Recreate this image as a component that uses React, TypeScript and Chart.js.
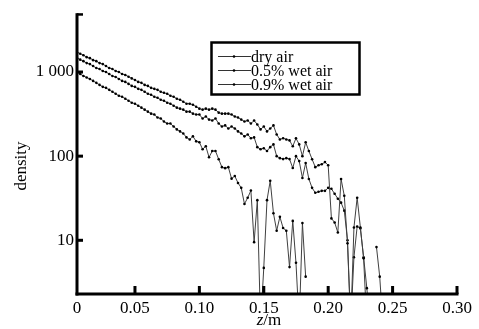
import React, { useEffect, useRef } from "react";
import { Chart, registerables } from "chart.js";

Chart.register(...registerables);

// z grid (m): first sample at the left end of the axis, regular step
const Z_START = 0.005;
const Z_STEP = 0.0025;

const SERIES_NAMES = ["dry air", "0.5% wet air", "0.9% wet air"];

const DRY_AIR: (number | null)[] = [
  1719, 1651, 1585, 1502, 1461, 1384, 1347, 1276, 1242, 1177,
  1115, 1085, 1027, 1000, 947, 922, 880, 840, 805, 763,
  743, 703, 684, 648, 631, 614, 582, 566, 551, 522,
  508, 481, 468, 444, 420, 420, 409, 387, 367, 357,
  367, 357, 367, 357, 329, 320, 320, 320, 312, 296,
  288, 272, 258, 265, 244, 265, 238, 208, 225, 197,
  213, 232, 181, 158, 163, 158, 154, 131, 163, 138,
  100, 146, 115, 92, 74, 78, 80, 85, 78, 18.2,
  16.3, 12.4, 53.6, 33.8, 9.2, 1, 14.2, 32.1, 14.2, 6.1,
  1, null, null, 8.3, 3.7, 1,
];

const WET_05: (number | null)[] = [
  1461, 1403, 1347, 1276, 1242, 1177, 1115, 1085, 1027, 1000,
  947, 897, 873, 827, 784, 763, 722, 684, 666, 631,
  614, 582, 551, 536, 508, 494, 468, 456, 432, 420,
  398, 377, 367, 357, 338, 338, 320, 312, 312, 280,
  296, 272, 265, 280, 244, 225, 232, 213, 225, 213,
  197, 186, 172, 181, 163, 167, 128, 121, 124, 115,
  128, 138, 100, 94.7, 92.2, 94.7, 92.2, 72.3, 100, 87.3,
  55.1, 82.7, 53.6, 42, 36.7, 37.7, 38.7, 38.7, 42, 40.9,
  35.7, 31.2, 28, 22.5, 10, 1, 6.3, 14.6, 13.8, 6.3,
  2.7, 1,
];

const WET_09: (number | null)[] = [
  1000, 947, 897, 861, 827, 784, 743, 703, 666, 648,
  614, 582, 551, 522, 508, 481, 456, 432, 420, 398,
  377, 357, 338, 320, 312, 288, 280, 258, 244, 244,
  225, 208, 197, 186, 167, 158, 172, 150, 146, 121,
  131, 97, 115, 115, 92, 74, 72, 74, 54, 58,
  48, 42, 27, 32, 39, 9.5, 30, 1, 4.7, 30,
  51, 21, 13, 19, 14, 13, 4.8, 17, 5.4, 1,
  16, 3.7,
];

const X_TICKS = [0.005, 0.05, 0.1, 0.15, 0.2, 0.25, 0.3];
const X_TICK_LABELS = ["0", "0.05", "0.10", "0.15", "0.20", "0.25", "0.30"];
const Y_TICKS = [10, 100, 1000];
const Y_TICK_LABELS = ["10", "100", "1 000"];

const FONT = '"Liberation Serif", "Times New Roman", serif';

function toPoints(arr: (number | null)[]) {
  return arr.map((v, i) => ({ x: Z_START + i * Z_STEP, y: v }));
}

const decorPlugin = {
  id: "decor",
  afterDatasetsDraw(chart: any) {
    const ctx = chart.ctx as CanvasRenderingContext2D;
    const { left, right, top, bottom } = chart.chartArea;
    const xs = chart.scales.x;
    const ys = chart.scales.y;
    ctx.save();
    ctx.fillStyle = "#000";
    // axes
    ctx.fillRect(left - 1.5, top, 3, bottom - top + 1.5);
    ctx.fillRect(left, top, 6, 2.5);
    ctx.fillRect(left - 1.5, bottom - 1.5, right - left + 3, 3);
    Y_TICKS.forEach((v) => {
      const y = ys.getPixelForValue(v);
      ctx.fillRect(left, y - 1.5, 6, 3);
    });
    X_TICKS.slice(1).forEach((v) => {
      const x = xs.getPixelForValue(v);
      ctx.fillRect(x - 1.5, bottom - 8, 3, 8);
    });

    // legend
    const bx = 211.5, by = 42.5, bw = 148, bh = 52;
    ctx.fillStyle = "#fff";
    ctx.fillRect(bx, by, bw, bh);
    ctx.strokeStyle = "#000";
    ctx.lineWidth = 2.5;
    ctx.strokeRect(bx, by, bw, bh);
    ctx.font = `16px ${FONT}`;
    ctx.textBaseline = "middle";
    ctx.textAlign = "left";
    const rows = [56.5, 70.5, 84.5];
    SERIES_NAMES.forEach((name, i) => {
      const y = rows[i];
      ctx.strokeStyle = "#333";
      ctx.lineWidth = 1;
      ctx.beginPath();
      ctx.moveTo(218, y);
      ctx.lineTo(251, y);
      ctx.stroke();
      ctx.fillStyle = "#000";
      ctx.beginPath();
      ctx.arc(234, y, 1.3, 0, Math.PI * 2);
      ctx.fill();
      ctx.fillText(name, 251, y + 1);
    });

    // axis titles
    ctx.fillStyle = "#000";
    ctx.font = `17px ${FONT}`;
    ctx.save();
    ctx.translate(22, 166);
    ctx.rotate(-Math.PI / 2);
    ctx.textAlign = "center";
    ctx.textBaseline = "middle";
    ctx.fillText("density", 0, 0);
    ctx.restore();

    ctx.textBaseline = "alphabetic";
    ctx.textAlign = "left";
    ctx.font = `italic 17px ${FONT}`;
    const zw = ctx.measureText("z").width;
    ctx.font = `17px ${FONT}`;
    const mw = ctx.measureText("/m").width;
    const cx = (left + right) / 2 + 2;
    const sx = cx - (zw + mw) / 2;
    ctx.font = `italic 17px ${FONT}`;
    ctx.fillText("z", sx, 325);
    ctx.font = `17px ${FONT}`;
    ctx.fillText("/m", sx + zw, 325);
    ctx.restore();
  },
};

export default function App() {
  const ref = useRef<HTMLCanvasElement | null>(null);
  useEffect(() => {
    if (!ref.current) return;
    const common = {
      borderColor: "#404040",
      borderWidth: 1,
      pointRadius: 1.3,
      pointBackgroundColor: "#000",
      pointBorderWidth: 0,
      pointHoverRadius: 1.3,
      spanGaps: false,
      tension: 0,
      fill: false,
    };
    const chart = new Chart(ref.current, {
      type: "line",
      data: {
        datasets: [
          { label: SERIES_NAMES[0], data: toPoints(DRY_AIR), ...common },
          { label: SERIES_NAMES[1], data: toPoints(WET_05), ...common },
          { label: SERIES_NAMES[2], data: toPoints(WET_09), ...common },
        ] as any,
      },
      options: {
        responsive: false,
        animation: false,
        events: [],
        layout: { padding: { left: 0, top: 11, right: 22, bottom: 0 } },
        plugins: {
          legend: { display: false },
          tooltip: { enabled: false },
          title: { display: false },
        },
        scales: {
          x: {
            type: "linear",
            min: 0.005,
            max: 0.3,
            bounds: "data",
            grid: { display: false, drawTicks: false },
            border: { display: false },
            afterBuildTicks: (s: any) => {
              s.ticks = X_TICKS.map((v) => ({ value: v }));
            },
            afterFit: (s: any) => {
              s.height = 35;
            },
            ticks: {
              autoSkip: false,
              maxRotation: 0,
              padding: 4,
              color: "#000",
              font: { family: FONT, size: 17 },
              callback: (_v: any, i: number) => X_TICK_LABELS[i],
            },
          },
          y: {
            type: "logarithmic",
            min: 2.3,
            max: 5000,
            bounds: "data",
            grid: { display: false, drawTicks: false },
            border: { display: false },
            afterBuildTicks: (s: any) => {
              s.ticks = Y_TICKS.map((v) => ({ value: v }));
            },
            afterFit: (s: any) => {
              s.width = 77;
            },
            ticks: {
              autoSkip: false,
              padding: 3,
              color: "#000",
              font: { family: FONT, size: 17 },
              callback: (_v: any, i: number) => Y_TICK_LABELS[i],
            },
          },
        },
      } as any,
      plugins: [decorPlugin],
    });
    return () => chart.destroy();
  }, []);
  return (
    <div style={{ position: "fixed", left: 0, top: 0, width: 479, height: 329, background: "#fff" }}>
      <canvas ref={ref} width={479} height={329} style={{ width: 479, height: 329, display: "block" }} />
    </div>
  );
}
